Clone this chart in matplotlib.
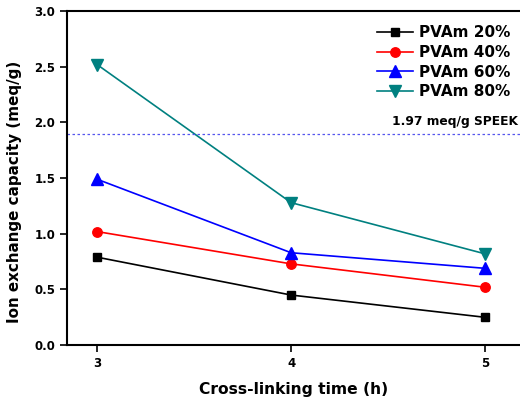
import matplotlib
matplotlib.use('Agg')
import matplotlib.pyplot as plt

# cross-linking time (h)
times = [3, 4, 5]
pvam_20 = [0.79, 0.45, 0.25]
pvam_40 = [1.02, 0.73, 0.52]
pvam_60 = [1.49, 0.83, 0.69]
pvam_80 = [2.52, 1.28, 0.82]
speek_iec = 1.9
speek_label = '1.97 meq/g SPEEK'

series = [
    ('PVAm 20%', pvam_20, 'black', 's', 6.2),
    ('PVAm 40%', pvam_40, 'red', 'o', 6.8),
    ('PVAm 60%', pvam_60, 'blue', '^', 8),
    ('PVAm 80%', pvam_80, '#008080', 'v', 8),
]

plt.rcParams['font.family'] = 'DejaVu Sans'
plt.rcParams['font.weight'] = 'bold'

fig = plt.figure(figsize=(5.2, 3.99), dpi=100)
ax = fig.add_axes([0.129, 0.135, 0.871, 0.837])

for name, vals, col, mk, ms in series:
    ax.plot(times, vals, color=col, marker=mk, markersize=ms, linewidth=1.2, label=name)

ax.axhline(speek_iec, color='#5555ee', linestyle=(0, (2, 2)), linewidth=0.9)
ax.text(5.17, speek_iec + 0.05, speek_label, ha='right', va='bottom', fontsize=8.8, fontweight='bold')

ax.set_xlim(2.845, 5.18)
ax.set_ylim(0, 3.0)
ax.set_xticks(times)
ax.set_yticks([0.0, 0.5, 1.0, 1.5, 2.0, 2.5, 3.0])
ax.set_yticklabels(['%.1f' % v for v in ax.get_yticks()])
ax.tick_params(direction='out', length=5, width=1.2, labelsize=8.5)

for s in ['left', 'bottom', 'top']:
    ax.spines[s].set_linewidth(1.5)
ax.spines['right'].set_visible(False)

ax.set_xlabel('Cross-linking time (h)', fontsize=11.2, fontweight='bold', labelpad=9)
ax.set_ylabel('Ion exchange capacity (meq/g)', fontsize=10.9, fontweight='bold')
ax.yaxis.set_label_coords(-0.1, 0.46)

ax.legend(loc='upper right', bbox_to_anchor=(1.0, 0.985), frameon=False, fontsize=11,
          handlelength=2.4, labelspacing=0.3, borderaxespad=0.2, handletextpad=0.4)

fig.savefig('out.png', dpi=100)
